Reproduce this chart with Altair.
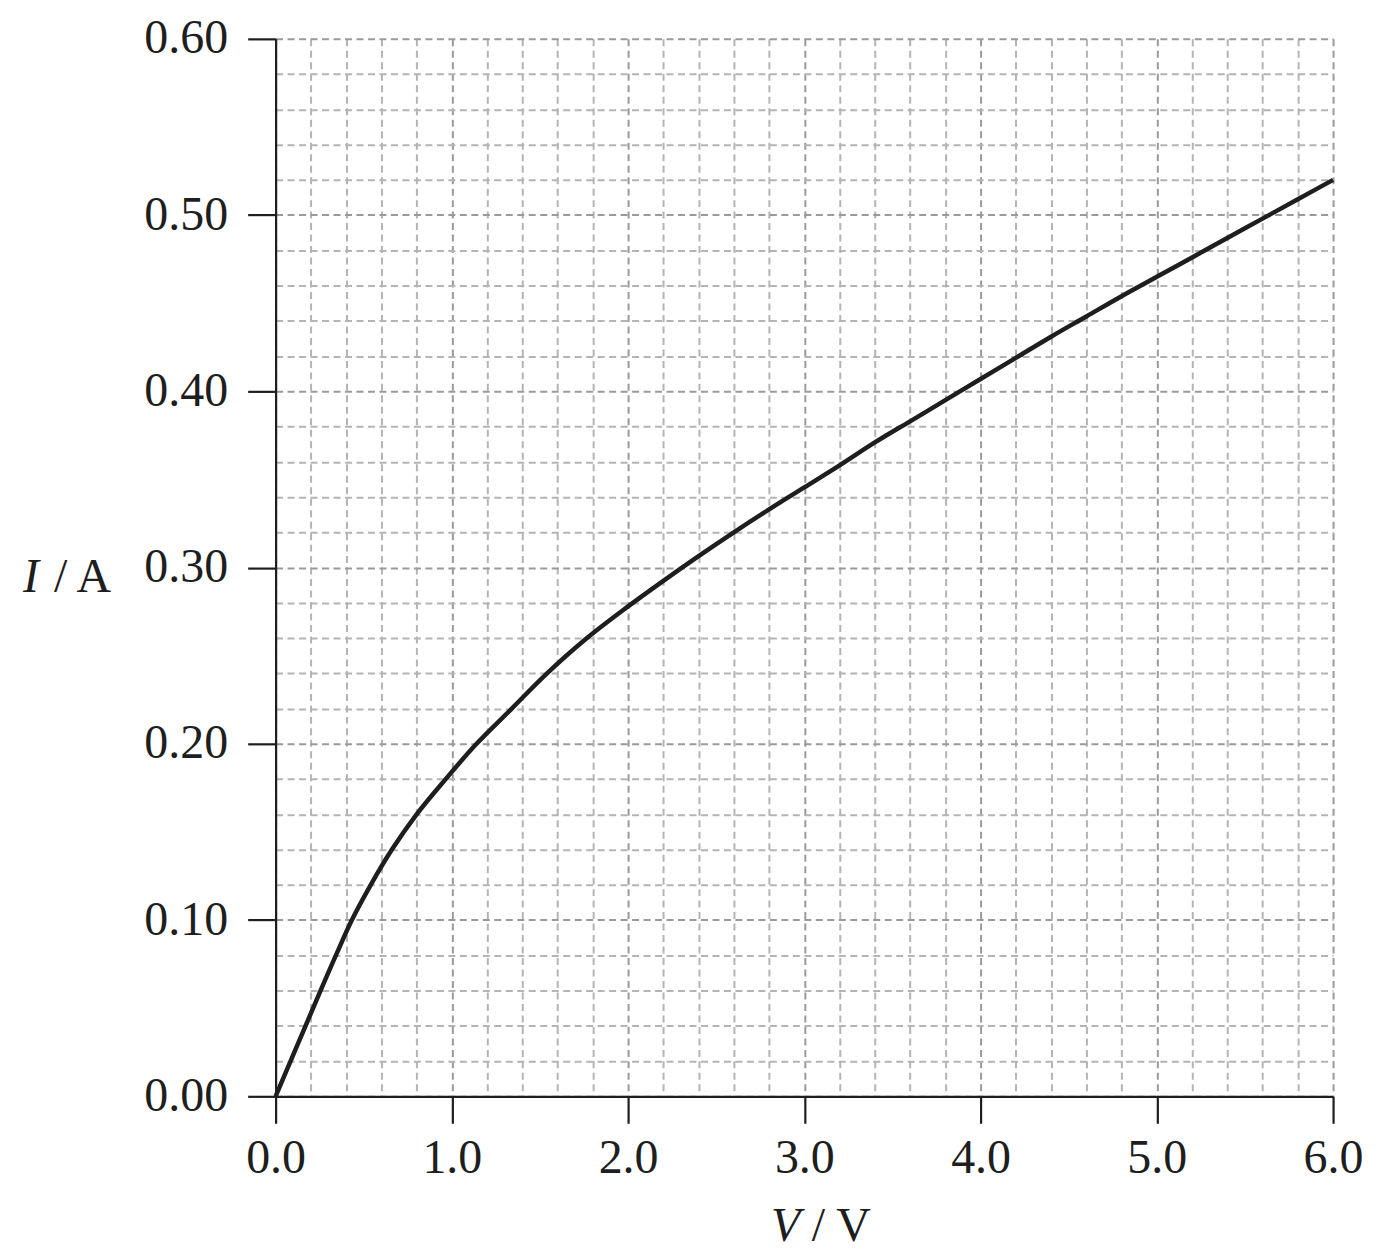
import altair as alt
import pandas as pd

# Curve data (V in volts, I in amperes)
voltage = [0.0, 0.085, 0.17, 0.255, 0.34, 0.43, 0.54, 0.66, 0.80, 0.965, 1.14, 1.34,
           1.54, 1.76, 2.0, 2.2, 2.4, 2.6, 2.8, 3.0, 3.2, 3.4, 3.6, 3.8, 4.0,
           4.2, 4.4, 4.6, 4.8, 5.0, 5.2, 5.4, 5.6, 5.8, 6.0]
current = [0.0, 0.02, 0.04, 0.06, 0.0795, 0.0995, 0.12, 0.14, 0.16, 0.18, 0.20, 0.22,
           0.24, 0.2595, 0.278, 0.2925, 0.3065, 0.32, 0.333, 0.3455, 0.358, 0.371, 0.383, 0.395, 0.407,
           0.419, 0.431, 0.4425, 0.454, 0.465, 0.476, 0.487, 0.498, 0.509, 0.52]

# Grid / tick positions
x_grid = [round(i * 0.2, 1) for i in range(31)]
y_grid = [round(i * 0.02, 2) for i in range(31)]

x_title_italic = "V"
x_title_rest = "/ V"
y_title_italic = "I"
y_title_rest = "/ A"

FONT = "Liberation Serif"
INK = "#1e1e1e"

df = pd.DataFrame({"V": voltage, "I": current})

x_major = "abs(datum.value - round(datum.value)) < 1e-6"
y_major = "abs(datum.value * 10 - round(datum.value * 10)) < 1e-6"

GRID_DASH = [7, 4.5]

x_axis = alt.Axis(
    values=x_grid,
    labelExpr=f"{x_major} ? format(datum.value, '.1f') : ''",
    labelOverlap=False,
    labelFlush=False,
    labelFont=FONT,
    labelFontSize=48,
    labelColor=INK,
    labelPadding=11,
    tickSize=27,
    tickWidth=2.2,
    tickColor=INK,
    tickOpacity=alt.condition(x_major, alt.value(1), alt.value(0)),
    domainColor=INK,
    domainWidth=2.2,
    grid=True,
    gridDash=GRID_DASH,
    gridWidth=2,
    gridColor=alt.condition(x_major, alt.value("#9a9a9a"), alt.value("#b4b4b4")),
    title=None,
)

y_axis = alt.Axis(
    values=y_grid,
    labelExpr=f"{y_major} ? format(datum.value, '.2f') : ''",
    labelOverlap=False,
    labelFlush=False,
    labelFont=FONT,
    labelFontSize=48,
    labelColor=INK,
    labelPadding=20,
    labelBaseline="middle",
    tickSize=28,
    tickWidth=2.2,
    tickColor=INK,
    tickOpacity=alt.condition(y_major, alt.value(1), alt.value(0)),
    domainColor=INK,
    domainWidth=2.2,
    grid=True,
    gridDash=GRID_DASH,
    gridWidth=2,
    gridColor=alt.condition(y_major, alt.value("#9a9a9a"), alt.value("#b4b4b4")),
    title=None,
)

line = alt.Chart(df).mark_line(
    interpolate="catmull-rom", color=INK, strokeWidth=4.5
).encode(
    x=alt.X("V:Q", scale=alt.Scale(domain=[0, 6], nice=False, zero=True), axis=x_axis),
    y=alt.Y("I:Q", scale=alt.Scale(domain=[0, 0.6], nice=False, zero=True), axis=y_axis),
)

def label(text, x, y, italic):
    return alt.Chart(pd.DataFrame({"t": [text]})).mark_text(
        font=FONT,
        fontSize=48,
        fontStyle="italic" if italic else "normal",
        color=INK,
        align="left",
        baseline="alphabetic",
    ).encode(text="t:N", x=alt.value(x), y=alt.value(y))

y_t1 = label(y_title_italic, -253, 554, True)
y_t2 = label(y_title_rest, -222, 554, False)
x_t1 = label(x_title_italic, 496, 1204, True)
x_t2 = label(x_title_rest, 537, 1204, False)

chart = alt.layer(line, y_t1, y_t2, x_t1, x_t2).properties(
    width=1059,
    height=1059,
    padding={"left": 268, "top": 30, "right": 45, "bottom": 160},
    autosize=alt.AutoSizeParams(type="none"),
    background="white",
).configure_view(stroke=None)

chart.save("out.html", embed_options={"renderer": "svg", "actions": False})
